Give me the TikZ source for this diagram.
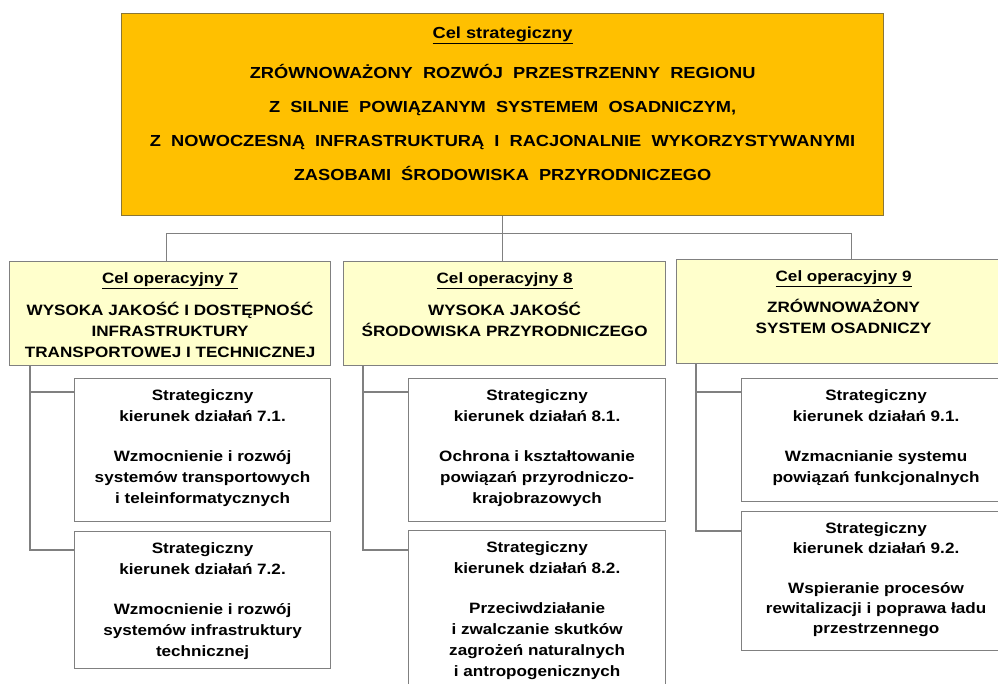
\documentclass[tikz,border=0pt]{standalone}
\usepackage{fontspec}
\setmainfont{Liberation Sans}[FakeStretch=1.14]
\usepackage{xcolor}

\definecolor{celorange}{HTML}{FFC000}
\definecolor{celyellow}{HTML}{FFFFCC}
\definecolor{linegray}{HTML}{808080}
\definecolor{topborder}{HTML}{8A7636}

% text block of a box: width, height, top gap, lines
\newcommand{\boxtxt}[4]{\parbox[c][#2][t]{#1}{\centering\vspace*{#3}#4}}

\begin{document}
\begin{tikzpicture}[x=1pt, y=-1pt,
    topbox/.style={draw=topborder, fill=celorange, line width=1.2pt, inner sep=0pt, anchor=north west,
        font=\fontsize{16}{34}\selectfont\bfseries},
    opbox/.style={draw=linegray, fill=celyellow, line width=1.2pt, inner sep=0pt, anchor=north west,
        font=\fontsize{15}{21}\selectfont\bfseries},
    stbox/.style={draw=linegray, fill=white, line width=1.2pt, inner sep=0pt, anchor=north west,
        font=\fontsize{15}{21}\selectfont\bfseries},
    conn/.style={draw=linegray, line width=1.2pt}]

    \useasboundingbox (0,0) rectangle (998,684);
    \clip (0,0) rectangle (998,684);

    % Cel strategiczny
    \node[topbox] (cel) at (121,13) {\boxtxt{762pt}{202pt}{13.5pt}{%
        \underline{Cel strategiczny}\\[6pt]
        ZRÓWNOWAŻONY\ \ ROZWÓJ\ \ PRZESTRZENNY\ \ REGIONU\\
        Z\ \ SILNIE\ \ POWIĄZANYM\ \ SYSTEMEM\ \ OSADNICZYM,\\
        Z\ \ NOWOCZESNĄ\ \ INFRASTRUKTURĄ\ \ I\ \ RACJONALNIE\ \ WYKORZYSTYWANYMI\\
        ZASOBAMI\ \ ŚRODOWISKA\ \ PRZYRODNICZEGO}};

    % Cele operacyjne
    \node[opbox] (op7) at (9,261) {\boxtxt{321pt}{104pt}{11.5pt}{%
        \underline{Cel operacyjny 7}\\[11pt]
        WYSOKA JAKOŚĆ I DOSTĘPNOŚĆ\\
        INFRASTRUKTURY\\
        TRANSPORTOWEJ I TECHNICZNEJ}};
    \node[opbox] (op8) at (343,261) {\boxtxt{322pt}{104pt}{11.5pt}{%
        \underline{Cel operacyjny 8}\\[11pt]
        WYSOKA JAKOŚĆ\\
        ŚRODOWISKA PRZYRODNICZEGO}};
    \node[opbox] (op9) at (676,259) {\boxtxt{334pt}{104pt}{11.5pt}{%
        \underline{Cel operacyjny 9}\\[10pt]
        ZRÓWNOWAŻONY\\
        SYSTEM OSADNICZY}};

    % Strategiczne kierunki dzialan
    \node[stbox] (s71) at (74,378) {\boxtxt{256pt}{143pt}{11.5pt}{%
        Strategiczny\\ kierunek działań 7.1.\\[19pt]
        Wzmocnienie i rozwój\\ systemów transportowych\\ i teleinformatycznych}};
    \node[stbox] (s72) at (74,531) {\boxtxt{256pt}{137pt}{11.5pt}{%
        Strategiczny\\ kierunek działań 7.2.\\[19pt]
        Wzmocnienie i rozwój\\ systemów infrastruktury\\ technicznej}};
    \node[stbox] (s81) at (408,378) {\boxtxt{257pt}{143pt}{11.5pt}{%
        Strategiczny\\ kierunek działań 8.1.\\[19pt]
        Ochrona i kształtowanie\\ powiązań przyrodniczo-\\ krajobrazowych}};
    \node[stbox] (s82) at (408,530) {\boxtxt{257pt}{170pt}{11.5pt}{%
        Strategiczny\\ kierunek działań 8.2.\\[19pt]
        Przeciwdziałanie\\ i zwalczanie skutków\\ zagrożeń naturalnych\\ i antropogenicznych}};
    \node[stbox] (s91) at (741,378) {\boxtxt{269pt}{123pt}{11.5pt}{%
        Strategiczny\\ kierunek działań 9.1.\\[19pt]
        Wzmacnianie systemu\\ powiązań funkcjonalnych}};
    \node[stbox] (s92) at (741,511) {\boxtxt{269pt}{139pt}{11.5pt}{\fontsize{15}{20}\selectfont
        Strategiczny\\ kierunek działań 9.2.\\[20pt]
        Wspieranie procesów\\ rewitalizacji i poprawa ładu\\ przestrzennego}};

    % Connectors
    \draw[conn] (cel.south) -- ++(0,17) coordinate (split);
    \draw[conn] ([xshift=-3.5pt]op7.north) |- (split) -| ([xshift=8pt]op9.north);
    \draw[conn] (split) -- (split |- op8.north);

    \draw[conn] ([xshift=21pt]op7.south west) |- ([yshift=-14pt]s71.north west);
    \draw[conn] ([xshift=21pt]op7.south west) |- ([yshift=-19pt]s72.north west);
    \draw[conn] ([xshift=20pt]op8.south west) |- ([yshift=-14pt]s81.north west);
    \draw[conn] ([xshift=20pt]op8.south west) |- ([yshift=-20pt]s82.north west);
    \draw[conn] ([xshift=20pt]op9.south west) |- ([yshift=-14pt]s91.north west);
    \draw[conn] ([xshift=20pt]op9.south west) |- ([yshift=-20pt]s92.north west);
\end{tikzpicture}
\end{document}
